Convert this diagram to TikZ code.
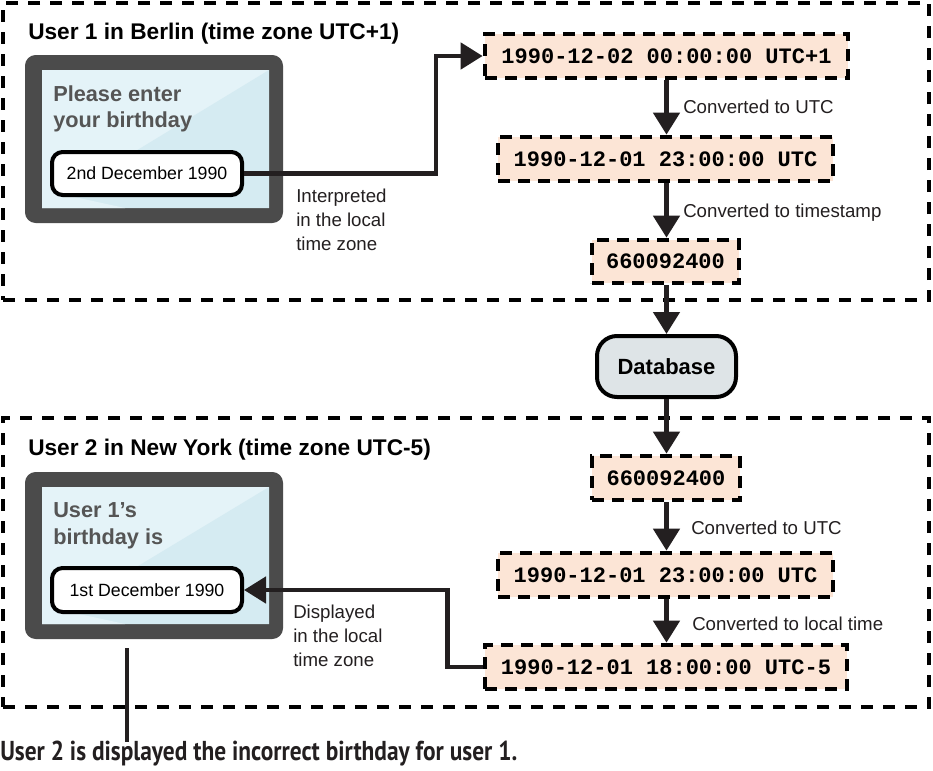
\documentclass[tikz,border=0pt]{standalone}
\usepackage{fontspec}
\setmainfont{Liberation Sans}
\newfontfamily\monofont{Liberation Mono}
\newfontfamily\capfont{PT Sans}
\usetikzlibrary{arrows.meta,fit}
\definecolor{peach}{HTML}{FCE5D6}
\definecolor{frame}{HTML}{4B4B4B}
\definecolor{scrA}{HTML}{E4F3F8}
\definecolor{scrB}{HTML}{D5EBF2}
\definecolor{dbfill}{HTML}{DEE4E7}
\definecolor{greytext}{HTML}{555555}
\definecolor{ink}{HTML}{231F20}
\begin{document}
\begin{tikzpicture}[x=0.75pt,y=-0.75pt,
  outer/.style={draw=black, line width=3.4pt, dash pattern=on 9pt off 7.5pt},
  tbox/.style={inner sep=0pt, fill=peach, draw=black, line width=3.5pt, dash pattern=on 9pt off 6pt},
  ttext/.style={inner sep=0pt, font=\monofont\bfseries\fontsize{16.5}{18}\selectfont},
  lbl/.style={anchor=base west, inner sep=0pt, font=\fontsize{14}{16}\selectfont, text=ink},
  ttl/.style={anchor=base west, inner sep=0pt, font=\bfseries\fontsize{17}{20}\selectfont},
  scrtxt/.style={anchor=base west, inner sep=0pt, font=\bfseries\fontsize{16.3}{19}\selectfont, text=greytext},
  scrframe/.style={inner sep=0pt, fill=frame, rounded corners=8pt},
  inbox/.style={inner sep=0pt, fill=white, draw=black, line width=3pt, rounded corners=8pt},
  intext/.style={inner sep=0pt, font=\fontsize{13.3}{15}\selectfont},
  conn/.style={draw=ink, line width=3.5pt, -{Triangle[width=19.5pt,length=16.5pt]}},
  plain/.style={draw=ink, line width=3.5pt}
]
\fill[white] (0,0) rectangle (933,771);
\useasboundingbox (0,0) rectangle (933,771);

% outer dashed regions
\node[outer, fit={(3,3)(929,300)}, inner sep=0pt] (reg1) {};
\node[outer, fit={(3,418)(929,707)}, inner sep=0pt] (reg2) {};

% titles
\node[ttl] (title1) at (28,40) {User 1 in Berlin (time zone UTC+1)};
\node[ttl] (title2) at (28,455) {User 2 in New York (time zone UTC-5)};

% screen 1
\node[scrframe, fit={(25,55)(283,223)}] (scr1) {};
\fill[scrA] (42,70) rectangle (269,208);
\fill[scrB] (42,208) -- (269,70) -- (269,208) -- cycle;
\fill[scrA] (42,190) -- (42,208) -- (125,208) -- cycle;
\node[scrtxt] (s1a) at (53,101) {Please enter};
\node[scrtxt] (s1b) at (53,127) {your birthday};
\node[inbox, fit={(52,152)(242,195)}] (in1) {};
\node[intext] (in1t) at (in1.center) {2nd December 1990};

% screen 2
\node[scrframe, fit={(25,472)(283,639)}] (scr2) {};
\fill[scrA] (42,487) rectangle (269,624);
\fill[scrB] (42,624) -- (269,487) -- (269,624) -- cycle;
\fill[scrA] (42,606) -- (42,624) -- (125,624) -- cycle;
\node[scrtxt] (s2a) at (53,517) {User 1’s};
\node[scrtxt] (s2b) at (53,544) {birthday is};
\node[inbox, fit={(52,568)(242,612)}] (in2) {};
\node[intext] (in2t) at (in2.center) {1st December 1990};

% top chain
\node[tbox, fit={(485,34)(848,78)}] (b1) {};
\node[ttext] (b1t) at (b1.center) {1990-12-02 00:00:00 UTC+1};
\node[tbox, fit={(498,137)(833,181)}] (b2) {};
\node[ttext] (b2t) at (b2.center) {1990-12-01 23:00:00 UTC};
\node[tbox, fit={(592,240)(739,283)}] (b3) {};
\node[ttext] (b3t) at (b3.center) {660092400};

% database
\node[inner sep=0pt, fill=dbfill, draw=black, line width=3pt, rounded corners=15pt, fit={(597,336)(736,397)}] (db) {};
\node[inner sep=0pt, font=\bfseries\fontsize{16.5}{18}\selectfont] (dbt) at (db.center) {Database};

% bottom chain
\node[tbox, fit={(592,456)(740,500)}] (b4) {};
\node[ttext] (b4t) at (b4.center) {660092400};
\node[tbox, fit={(498,553)(833,597)}] (b5) {};
\node[ttext] (b5t) at (b5.center) {1990-12-01 23:00:00 UTC};
\node[tbox, fit={(485,645)(847,689)}] (b6) {};
\node[ttext] (b6t) at (b6.center) {1990-12-01 18:00:00 UTC-5};

% labels
\node[lbl] (l1) at (683,113) {Converted to UTC};
\node[lbl] (l2) at (683,217) {Converted to timestamp};
\node[lbl] (l3) at (691,534) {Converted to UTC};
\node[lbl] (l4) at (692,630) {Converted to local time};
\node[lbl] (i1) at (296,202) {Interpreted};
\node[lbl] (i2) at (296,226) {in the local};
\node[lbl] (i3) at (296,250) {time zone};
\node[lbl] (d1) at (293,618) {Displayed};
\node[lbl] (d2) at (293,642) {in the local};
\node[lbl] (d3) at (293,666) {time zone};

% connectors
\draw[conn] (in1.east) -- ++(192,0) |- (b1.west);
\draw[conn] (b1.south) -- (b1.south |- b2.north);
\draw[conn] (b1.south |- b2.south) -- (b1.south |- b3.north);
\draw[conn] (b1.south |- b3.south) -- (b1.south |- db.north);
\draw[conn] (b1.south |- db.south) -- (b1.south |- b4.north);
\draw[conn] (b1.south |- b4.south) -- (b1.south |- b5.north);
\draw[conn] (b1.south |- b5.south) -- (b1.south |- b6.north);
\draw[conn] (b6.west) -- ++(-35,0) |- (in2.east);

% pointer to caption
\coordinate (p1) at (127,648);
\coordinate (p2) at (127,742);
\draw[plain] (p1) -- (p2);
\node[anchor=base west, inner sep=0pt, font=\capfont\bfseries\fontsize{20.5}{22}\selectfont, text=ink] (cap) at (0,760)
  {\resizebox{387.75pt}{\height}{User 2 is displayed the incorrect birthday for user 1.}};
\end{tikzpicture}
\end{document}
